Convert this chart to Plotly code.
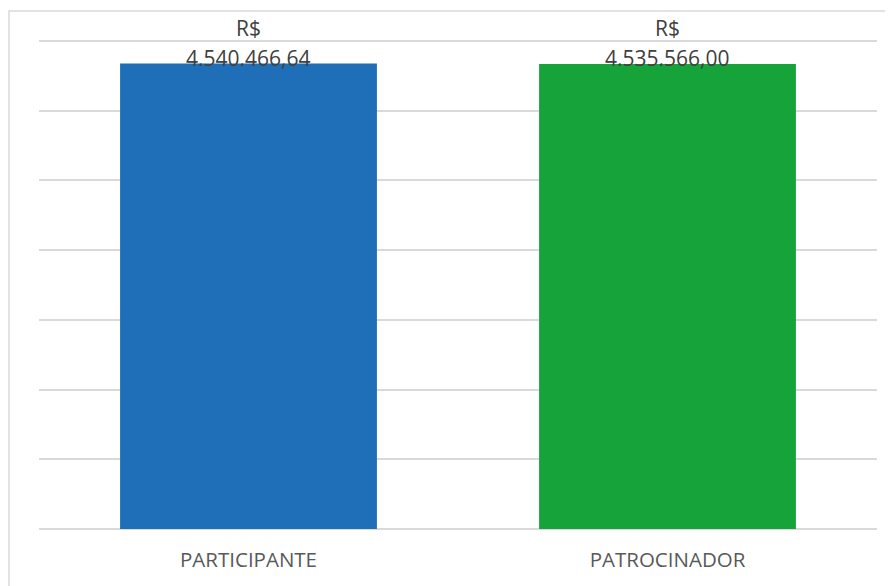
import plotly.graph_objects as go

categories = ["PARTICIPANTE", "PATROCINADOR"]
values = [4540466.64, 4535566.00]
bar_colors = ["#1f6fb8", "#16a43a"]
currency = "R$"

y_step = 680000
n_steps = 7

# page body has an 8px margin; compensate so the chart lands where the reference is
OFF = 8
PAD = 4  # extra px above the top gridline so it is drawn
W, H = 893 - OFF, 586 - OFF
L, R, T, B = 39 - OFF, 16, 41 - OFF - PAD, 57
pw, ph = W - L - R, H - T - B
y_max = y_step * n_steps * ph / (ph - PAD)


def fmt_brl(v):
    s = f"{v:,.2f}"
    return s.replace(",", "X").replace(".", ",").replace("X", ".")


fig = go.Figure()
fig.add_trace(go.Bar(
    x=categories,
    y=values,
    marker=dict(color=bar_colors, line=dict(width=0)),
    hoverinfo="skip",
))

annotations = []
for c, v in zip(categories, values):
    annotations.append(dict(
        x=c, y=v, xref="x", yref="y", text=fmt_brl(v), showarrow=False,
        yanchor="middle", yshift=6,
        font=dict(family="Open Sans", size=21, color="#404040"),
    ))
    annotations.append(dict(
        x=c, y=v, xref="x", yref="y", text=currency, showarrow=False,
        yanchor="middle", yshift=36,
        font=dict(family="Open Sans", size=21, color="#404040"),
    ))


def px_x(p):
    return (p - OFF - L) / pw


def px_y(p):
    return (H + OFF - B - p) / ph


shapes = [dict(
    type="rect", xref="paper", yref="paper",
    x0=px_x(9), x1=px_x(900), y0=px_y(600), y1=px_y(11),
    line=dict(color="#d9d9d9", width=1.5), fillcolor="rgba(0,0,0,0)",
    layer="below",
)]

fig.update_layout(
    width=W, height=H,
    margin=dict(l=L, r=R, t=T, b=B),
    paper_bgcolor="white", plot_bgcolor="white",
    bargap=0.387,
    showlegend=False,
    annotations=annotations,
    shapes=shapes,
    xaxis=dict(
        showgrid=False, showline=False, zeroline=False, ticks="",
        tickfont=dict(family="Open Sans", size=20.5, color="#595959"),
        ticklabelstandoff=16,
    ),
    yaxis=dict(
        range=[0, y_max], dtick=y_step, tick0=0,
        showgrid=True, gridcolor="#d9d9d9", gridwidth=1.5,
        zeroline=True, zerolinecolor="#d9d9d9", zerolinewidth=1.5,
        showticklabels=False, ticks="", showline=False,
    ),
)

fig.write_html("out.html")
